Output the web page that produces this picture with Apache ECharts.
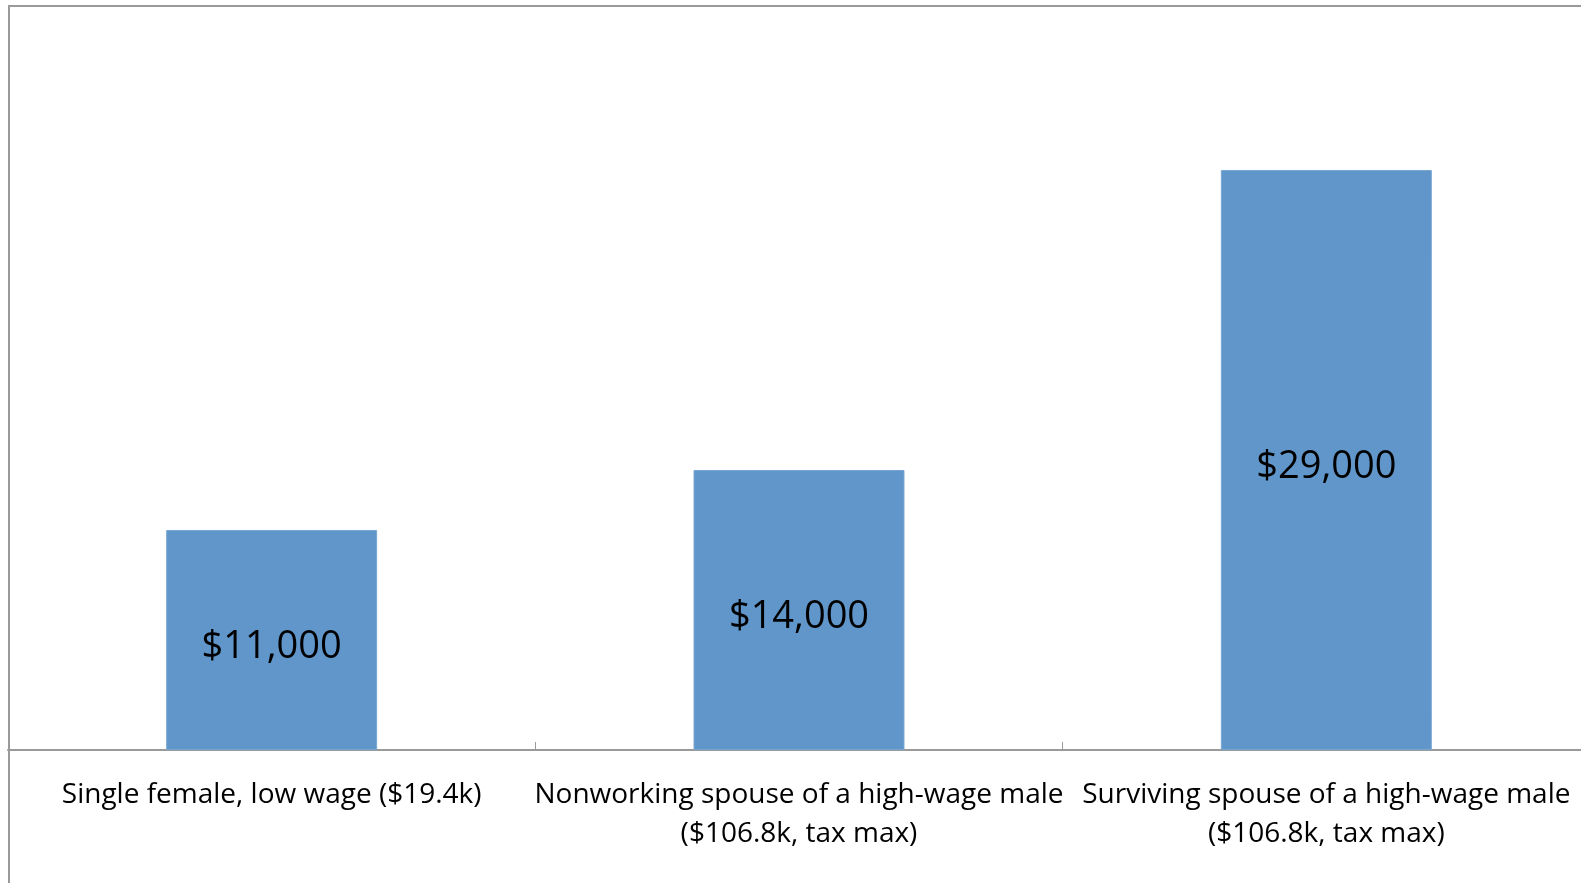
<!DOCTYPE html>
<html>
<head>
<meta charset="utf-8">
<script src="https://cdn.jsdelivr.net/npm/echarts@6/dist/echarts.min.js"></script>
<style>
html,body{margin:0;padding:0;background:#fff;overflow:hidden;width:1581px;height:883px;}
#chart{width:1590px;height:883px;}
</style>
</head>
<body>
<div id="chart"></div>
<script>
const categories = [
  "Single female, low wage ($19.4k)",
  "Nonworking spouse of a high-wage male\n($106.8k, tax max)",
  "Surviving spouse of a high-wage male\n($106.8k, tax max)"
];
const benefitValues = [11000, 14000, 29000];
const valueLabels = ["$11,000", "$14,000", "$29,000"];

const FONT = "'Open Sans', 'Noto Sans', sans-serif";
const chart = echarts.init(document.getElementById('chart'), null, {renderer: 'canvas'});
chart.setOption({
  backgroundColor: '#ffffff',
  animation: false,
  grid: {left: 8, top: 50, right: 0, height: 700, containLabel: false},
  xAxis: {
    type: 'category',
    data: categories,
    axisLine: {show: true, lineStyle: {color: '#9a9a9a', width: 2}},
    axisTick: {show: true, inside: true, length: 8, alignWithLabel: false, lineStyle: {color: '#9a9a9a', width: 1}},
    axisLabel: {
      interval: 0, margin: 26, color: '#000', fontFamily: FONT, fontSize: 28, lineHeight: 38.5
    },
    splitLine: {show: false}
  },
  yAxis: {
    type: 'value', min: 0, max: 35000, interval: 5000,
    show: false, splitLine: {show: false}
  },
  series: [{
    type: 'bar',
    data: benefitValues,
    barWidth: '40%',
    itemStyle: {color: '#6096C9', borderColor: '#78A6D3', borderWidth: 1},
    label: {
      show: true, position: 'inside', offset: [0, 7], color: '#000', fontFamily: FONT, fontSize: 38,
      formatter: p => valueLabels[p.dataIndex]
    }
  }],
  graphic: [
    {type: 'line', shape: {x1: 9, y1: 5, x2: 9, y2: 883}, style: {stroke: '#9a9a9a', lineWidth: 2}, z: 100},
    {type: 'line', shape: {x1: 8, y1: 6, x2: 1590, y2: 6}, style: {stroke: '#9a9a9a', lineWidth: 2}, z: 100}
  ]
});
</script>
</body>
</html>
